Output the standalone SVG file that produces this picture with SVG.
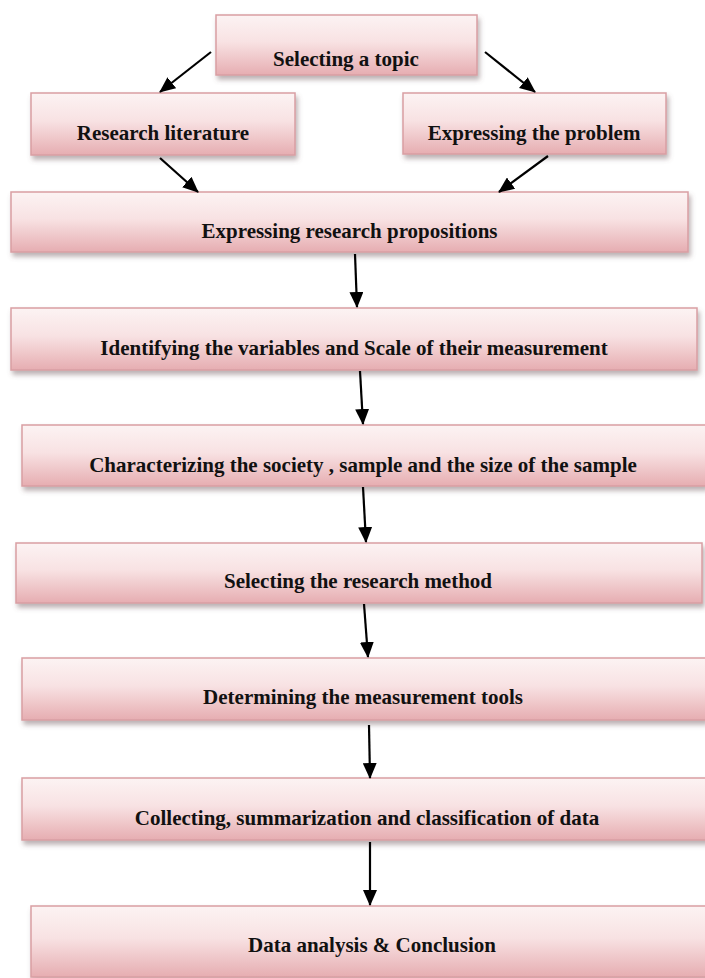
<svg xmlns="http://www.w3.org/2000/svg" width="705" height="978" viewBox="0 0 705 978">
  <defs>
    <linearGradient id="boxFill" x1="0" y1="0" x2="0" y2="1">
      <stop offset="0" stop-color="#fcf3f3"/>
      <stop offset="0.45" stop-color="#f8e2e3"/>
      <stop offset="1" stop-color="#e6adb1"/>
    </linearGradient>
    <filter id="shadow" x="-5%" y="-20%" width="115%" height="150%">
      <feDropShadow dx="2" dy="4" stdDeviation="2.5" flood-color="#6b5557" flood-opacity="0.45"/>
    </filter>
    <marker id="arrow" markerUnits="userSpaceOnUse" markerWidth="16" markerHeight="14" refX="15" refY="7" orient="auto">
      <path d="M0,0 L16,7 L0,14 Z" fill="#000"/>
    </marker>
    <style>
      .box { fill: url(#boxFill); stroke: #d99ea3; stroke-width: 1.5; filter: url(#shadow); }
      .label { font-family: "Liberation Serif", "Times New Roman", serif; font-weight: bold; font-size: 21px; fill: #111; text-anchor: middle; }
      .conn { stroke: #000; stroke-width: 2.2; fill: none; marker-end: url(#arrow); }
    </style>
  </defs>

  <rect width="705" height="978" fill="#ffffff"/>

  <g id="n1">
    <rect class="box" x="216" y="15" width="261" height="60"/>
    <text class="label" x="346" y="66">Selecting a topic</text>
  </g>
  <g id="n2">
    <rect class="box" x="31" y="93" width="264" height="62"/>
    <text class="label" x="163" y="140">Research literature</text>
  </g>
  <g id="n3">
    <rect class="box" x="403" y="93" width="263" height="61"/>
    <text class="label" x="534" y="140">Expressing the problem</text>
  </g>
  <g id="n4">
    <rect class="box" x="11" y="192" width="677" height="60"/>
    <text class="label" x="349.5" y="238">Expressing research propositions</text>
  </g>
  <g id="n5">
    <rect class="box" x="11" y="308" width="686" height="62"/>
    <text class="label" x="354" y="355">Identifying the variables and Scale of their measurement</text>
  </g>
  <g id="n6">
    <rect class="box" x="22" y="425" width="684" height="61"/>
    <text class="label" x="363" y="472">Characterizing the society , sample and the size of the sample</text>
  </g>
  <g id="n7">
    <rect class="box" x="16" y="543" width="686" height="60"/>
    <text class="label" x="358" y="588">Selecting the research method</text>
  </g>
  <g id="n8">
    <rect class="box" x="22" y="658" width="684" height="62"/>
    <text class="label" x="363" y="704">Determining the measurement tools</text>
  </g>
  <g id="n9">
    <rect class="box" x="22" y="778" width="690" height="62"/>
    <text class="label" x="367" y="825">Collecting, summarization and classification of data</text>
  </g>
  <g id="n10">
    <rect class="box" x="31" y="906" width="684" height="71"/>
    <text class="label" x="372" y="952">Data analysis &amp; Conclusion</text>
  </g>

  <g id="connectors">
    <line class="conn" x1="211" y1="52" x2="160" y2="92"/>
    <line class="conn" x1="485" y1="52" x2="535" y2="92"/>
    <line class="conn" x1="160" y1="158" x2="198" y2="192"/>
    <line class="conn" x1="548" y1="156" x2="499" y2="192"/>
    <line class="conn" x1="355" y1="254" x2="357" y2="307"/>
    <line class="conn" x1="360" y1="371" x2="363" y2="424"/>
    <line class="conn" x1="363" y1="487" x2="366" y2="542"/>
    <line class="conn" x1="364" y1="604" x2="368" y2="657"/>
    <line class="conn" x1="369" y1="725" x2="370" y2="778"/>
    <line class="conn" x1="370" y1="842" x2="370" y2="905"/>
  </g>
</svg>
